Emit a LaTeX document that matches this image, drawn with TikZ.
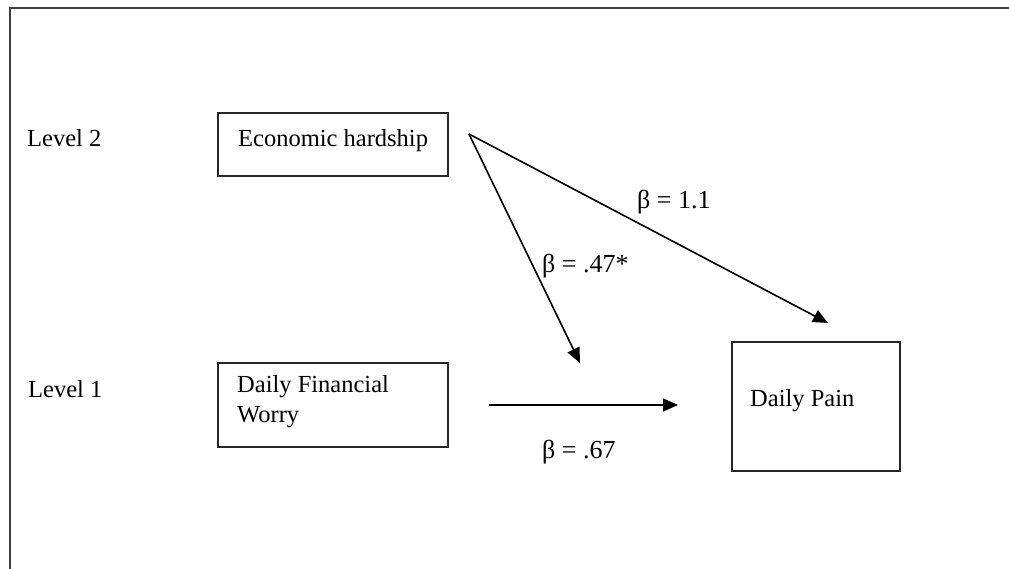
\documentclass[tikz,border=0pt]{standalone}
\usepackage{fontspec}
\setmainfont{Liberation Serif}
\usetikzlibrary{arrows.meta}
\begin{document}
\begin{tikzpicture}[x=1pt,y=-1pt,
  box/.style={draw=black!85, line width=2pt, inner sep=0pt},
  lbl/.style={anchor=base west, inner sep=0pt, font=\fontsize{24.5}{30}\selectfont},
  blbl/.style={anchor=base west, inner sep=0pt, font=\fontsize{26}{30}\selectfont},
  conn/.style={line width=1.6pt, -{Triangle[length=15pt,width=13pt]}}]
\useasboundingbox (0,0) rectangle (1009,568);
% frame
\draw[line width=2pt, black!75] (10,575) -- (10,8) -- (1015,8);
% boxes
\node[box, minimum width=230pt, minimum height=63pt] (eh) at (333,144.5) {};
\node[box, minimum width=230pt, minimum height=84pt] (dfw) at (333,405) {};
\node[box, minimum width=168pt, minimum height=129pt] (dp) at (816,406.5) {};
% texts
\node[lbl] (l2) at (27,146) {Level 2};
\node[lbl] (l1) at (28,397) {Level 1};
\node[lbl] (teh) at (238,146) {Economic hardship};
\node[lbl, align=left, anchor=north west] (tdfw) at (237,375) {Daily Financial\\Worry};
\node[lbl] (tdp) at (750,406) {Daily Pain};
\node[blbl] (b11) at (637,208) {β = 1.1};
\node[blbl] (b47) at (542,272) {β = .47*};
\node[blbl] (b67) at (542,458) {β = .67};
% connector endpoints
\coordinate (s) at (469,134);
\coordinate (e11) at (828,323);
\coordinate (e47) at (580,363);
\coordinate (hs) at (489,405);
\coordinate (he) at (678,405);
\draw[conn] (s) -- (e11);
\draw[conn] (s) -- (e47);
\draw[conn] (hs) -- (he);
\end{tikzpicture}
\end{document}
